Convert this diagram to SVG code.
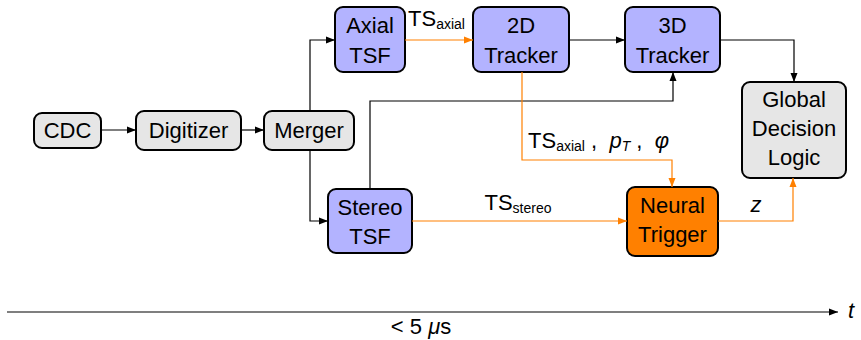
<svg xmlns="http://www.w3.org/2000/svg" width="861" height="340" viewBox="0 0 861 340">
<defs>
<marker id="ab" markerUnits="userSpaceOnUse" markerWidth="10" markerHeight="8" refX="9" refY="4" orient="auto"><path d="M0,0.5 L9,4 L0,7.5 Z" fill="#000"/></marker>
<marker id="ao" markerUnits="userSpaceOnUse" markerWidth="10" markerHeight="8" refX="9" refY="4" orient="auto"><path d="M0,0.5 L9,4 L0,7.5 Z" fill="#ff8000"/></marker>
<style>
.n rect{stroke:#000;stroke-width:2}
.g{fill:#e6e6e6}.b{fill:#b3b3ff}.o{fill:#ff8000}
text{font-family:"Liberation Sans",Arial,sans-serif;font-size:22px;fill:#000}
.n text{text-anchor:middle}
.c path{fill:none;stroke-width:1.2}
.k{stroke:#000;marker-end:url(#ab)}
.or{stroke:#ff8000;marker-end:url(#ao)}
.sub{font-size:14px}
.it{font-style:italic}
</style>
</defs>
<g id="cdc" class="n"><rect class="g" x="34" y="113" width="67" height="35" rx="8"/><text x="67.5" y="138">CDC</text></g>
<g id="digitizer" class="n"><rect class="g" x="136" y="111" width="105" height="39" rx="8"/><text x="188.5" y="138">Digitizer</text></g>
<g id="merger" class="n"><rect class="g" x="264" y="111" width="90" height="39" rx="8"/><text x="309" y="138">Merger</text></g>
<g id="axialtsf" class="n"><rect class="b" x="335" y="7" width="70" height="65" rx="8"/><text x="370" y="33">Axial</text><text x="370" y="63">TSF</text></g>
<g id="tracker2d" class="n"><rect class="b" x="473" y="7" width="96" height="65" rx="8"/><text x="521" y="33">2D</text><text x="521" y="63">Tracker</text></g>
<g id="tracker3d" class="n"><rect class="b" x="625" y="7" width="95" height="65" rx="8"/><text x="672.5" y="33">3D</text><text x="672.5" y="63">Tracker</text></g>
<g id="gdl" class="n"><rect class="g" x="742" y="82" width="104" height="96" rx="8"/><text x="794" y="107">Global</text><text x="794" y="136">Decision</text><text x="794" y="165">Logic</text></g>
<g id="stereotsf" class="n"><rect class="b" x="328" y="189" width="84" height="64" rx="8"/><text x="370" y="215">Stereo</text><text x="370" y="244">TSF</text></g>
<g id="neural" class="n"><rect class="o" x="627" y="187" width="91" height="69" rx="8"/><text x="672.5" y="213">Neural</text><text x="672.5" y="242">Trigger</text></g>
<g id="connectors" class="c">
<path class="k" d="M101,130 H136"/>
<path class="k" d="M241,130 H264"/>
<path class="k" d="M310,111 V40 H335"/>
<path class="k" d="M310,150 V221 H328"/>
<path class="or" d="M405,40 H473"/>
<path class="k" d="M569,40 H625"/>
<path class="k" d="M720,40 H794 V82"/>
<path class="k" d="M370,189 V101 H673 V72"/>
<path class="or" d="M522,72 V160 H672 V187"/>
<path class="or" d="M412,221 H627"/>
<path class="or" d="M718,221 H793 V178"/>
<path class="k" stroke="#333" d="M7,312 H838"/>
</g>
<g id="labels">
<text x="408" y="26">TS<tspan class="sub" dy="3">axial</tspan></text>
<text x="518" y="210" text-anchor="middle">TS<tspan class="sub" dy="3">stereo</tspan></text>
<text x="528" y="148" xml:space="preserve">TS<tspan class="sub" dy="3">axial</tspan><tspan dy="-3"> ,  </tspan><tspan class="it">p</tspan><tspan class="sub it" dy="3">T</tspan><tspan dy="-3"> ,  </tspan><tspan class="it">φ</tspan></text>
<text x="756" y="212" text-anchor="middle" class="it">z</text>
<text x="851" y="318" text-anchor="middle" class="it">t</text>
<text x="421" y="334" text-anchor="middle">&lt; 5 <tspan class="it">μ</tspan>s</text>
</g>
</svg>
